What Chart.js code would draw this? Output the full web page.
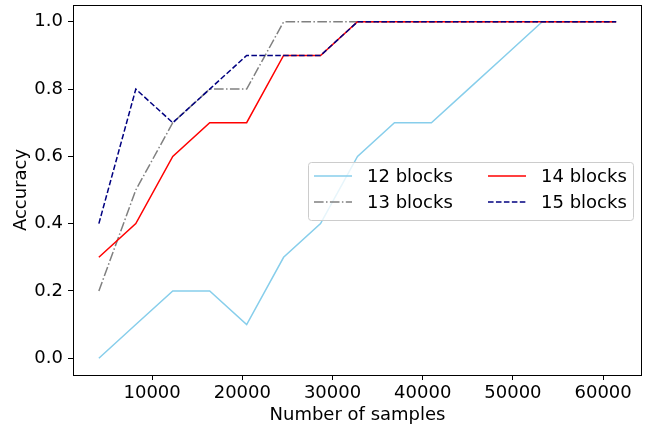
<!DOCTYPE html>
<html>
<head>
<meta charset="utf-8">
<script src="https://cdn.jsdelivr.net/npm/chart.js@4/dist/chart.umd.min.js"></script>
<style>
  html, body { margin: 0; padding: 0; background: #fff; }
</style>
</head>
<body>
<canvas id="accChart" width="653" height="426"></canvas>
<script>
// data
const samples = [4096, 8192, 12288, 16384, 20480, 24576, 28672, 32768, 36864, 40960, 45056, 49152, 53248, 57344, 61440];
const blocks12 = [0.0, 0.1, 0.2, 0.2, 0.1, 0.3, 0.4, 0.6, 0.7, 0.7, 0.8, 0.9, 1.0, 1.0, 1.0];
const blocks13 = [0.2, 0.5, 0.7, 0.8, 0.8, 1.0, 1.0, 1.0, 1.0, 1.0, 1.0, 1.0, 1.0, 1.0, 1.0];
const blocks14 = [0.3, 0.4, 0.6, 0.7, 0.7, 0.9, 0.9, 1.0, 1.0, 1.0, 1.0, 1.0, 1.0, 1.0, 1.0];
const blocks15 = [0.4, 0.8, 0.7, 0.8, 0.9, 0.9, 0.9, 1.0, 1.0, 1.0, 1.0, 1.0, 1.0, 1.0, 1.0];
const seriesNames = ["12 blocks", "13 blocks", "14 blocks", "15 blocks"];
const xTickValues = [10000, 20000, 30000, 40000, 50000, 60000];
const yTickValues = [0.0, 0.2, 0.4, 0.6, 0.8, 1.0];

const FONT = "DejaVu Sans";
const FS = 18;

function toPoints(ys) {
    return samples.map((x, i) => ({ x: x, y: ys[i] }));
}

const styles = [
    { color: "#87ceeb", dash: [] },
    { color: "#808080", dash: [9.6, 2.4, 1.5, 2.4] },
    { color: "#ff0000", dash: [] },
    { color: "#000080", dash: [5.55, 2.4] }
];

const datasets = [blocks12, blocks13, blocks14, blocks15].map((ys, i) => ({
    label: seriesNames[i],
    data: toPoints(ys),
    borderColor: styles[i].color,
    borderDash: styles[i].dash,
    borderWidth: 1.5,
    pointRadius: 0,
    tension: 0,
    fill: false,
    order: 4 - i // later series on top, like matplotlib
}));

// frame around the plot + matplotlib-like legend
const framePlugin = {
    id: "frame",
    afterDatasetsDraw(chart) {
        const ctx = chart.ctx;
        const a = chart.chartArea;
        ctx.save();

        // legend box
        const bx = 308, by = 162, bw = 325, bh = 58;
        ctx.beginPath();
        ctx.roundRect(bx + 0.5, by + 0.5, bw, bh, 3);
        ctx.fillStyle = "rgba(255,255,255,0.8)";
        ctx.fill();
        ctx.strokeStyle = "#cccccc";
        ctx.lineWidth = 1;
        ctx.stroke();

        const cols = [{ lx: 314, tx: 367 }, { lx: 488, tx: 541 }];
        const rows = [176, 202];
        ctx.font = FS + "px '" + FONT + "'";
        ctx.textBaseline = "middle";
        ctx.textAlign = "left";
        datasets.forEach((ds, i) => {
            const col = cols[Math.floor(i / 2)];
            const y = rows[i % 2];
            ctx.beginPath();
            ctx.setLineDash(ds.borderDash);
            ctx.strokeStyle = ds.borderColor;
            ctx.lineWidth = 1.5;
            ctx.moveTo(col.lx, y);
            ctx.lineTo(col.lx + 38, y);
            ctx.stroke();
            ctx.setLineDash([]);
            ctx.fillStyle = "#000";
            ctx.fillText(ds.label, col.tx, y + 1);
        });

        // axes frame
        ctx.strokeStyle = "#000";
        ctx.lineWidth = 1;
        ctx.strokeRect(Math.round(a.left) + 0.5, Math.round(a.top) + 0.5,
            Math.round(a.right - a.left) - 1, Math.round(a.bottom - a.top));
        ctx.restore();
    }
};

const tickFont = { family: FONT, size: FS };

new Chart(document.getElementById("accChart").getContext("2d"), {
    type: "line",
    data: { datasets: datasets },
    options: {
        responsive: false,
        animation: false,
        devicePixelRatio: 1,
        layout: { padding: { left: 0, right: 11, top: 5, bottom: 0 } },
        plugins: {
            legend: { display: false },
            tooltip: { enabled: false }
        },
        scales: {
            x: {
                type: "linear",
                min: 1229,
                max: 64307,
                afterBuildTicks: (s) => { s.ticks = xTickValues.map(v => ({ value: v })); },
                afterFit: (s) => { s.height = 51; s.paddingLeft = 0; s.paddingRight = 0; },
                grid: { drawOnChartArea: false, drawTicks: true, tickLength: 5, color: "#000" },
                border: { display: false },
                ticks: { font: tickFont, color: "#000", padding: 3, maxRotation: 0, callback: (v) => String(v) },
                title: { display: true, text: "Number of samples", font: tickFont, color: "#000", padding: { top: 3, bottom: 0 } }
            },
            y: {
                min: -0.05,
                max: 1.05,
                afterBuildTicks: (s) => { s.ticks = yTickValues.map(v => ({ value: v })); },
                afterFit: (s) => { s.width = 73; s.paddingTop = 0; s.paddingBottom = 0; },
                grid: { drawOnChartArea: false, drawTicks: true, tickLength: 5, color: "#000" },
                border: { display: false },
                ticks: { font: tickFont, color: "#000", padding: 5, callback: (v) => Number(v).toFixed(1) },
                title: { display: true, text: "Accuracy", font: tickFont, color: "#000", padding: { top: 11, bottom: 0 } }
            }
        }
    },
    plugins: [framePlugin]
});
</script>
</body>
</html>
